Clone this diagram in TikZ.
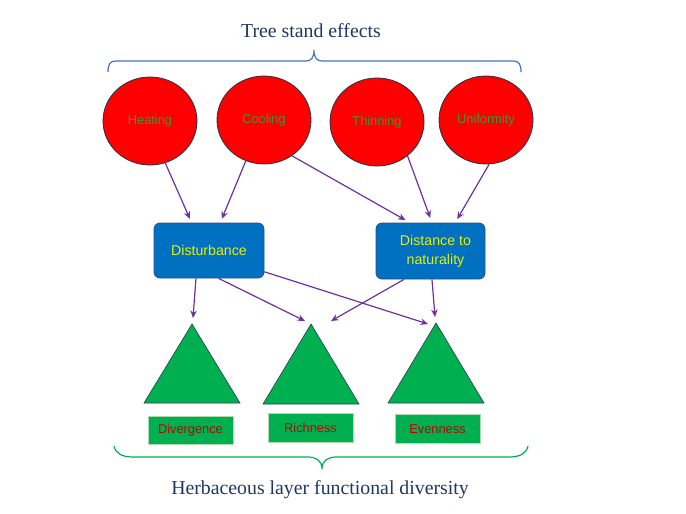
\documentclass[tikz,border=0pt]{standalone}
\usepackage{fontspec}
\setmainfont{Liberation Serif}
\setsansfont{Liberation Sans}
\usetikzlibrary{shapes.geometric,arrows.meta}
\definecolor{circred}{RGB}{255,0,0}
\definecolor{circborder}{RGB}{40,50,70}
\definecolor{circtext}{RGB}{60,150,60}
\definecolor{boxblue}{RGB}{0,112,192}
\definecolor{boxborder}{RGB}{40,80,130}
\definecolor{boxtext}{RGB}{232,240,0}
\definecolor{trigreen}{RGB}{0,176,80}
\definecolor{triborder}{RGB}{40,60,80}
\definecolor{lblborder}{RGB}{175,220,175}
\definecolor{lbltext}{RGB}{192,0,0}
\definecolor{arrowpurple}{RGB}{112,48,160}
\definecolor{titleblue}{RGB}{31,56,100}
\definecolor{bracetop}{RGB}{68,114,196}
\definecolor{bracebot}{RGB}{0,176,80}
\begin{document}
\begin{tikzpicture}[x=1pt,y=-1pt,
  effect/.style={ellipse, draw=circborder, line width=0.8pt, fill=circred,
    minimum width=94pt, minimum height=88pt, inner sep=0pt, text=circtext,
    font=\sffamily\fontsize{12.8}{14}\selectfont},
  mediator/.style={rectangle, rounded corners=6pt, draw=boxborder, line width=0.8pt,
    fill=boxblue, text=boxtext, font=\sffamily\fontsize{14.2}{19}\selectfont,
    align=center, inner sep=0pt},
  trishape/.style={fill=trigreen, draw=triborder, line width=0.6pt},
  metriclabel/.style={rectangle, draw=lblborder, line width=0.6pt, fill=trigreen,
    text=lbltext, font=\sffamily\fontsize{12.8}{14}\selectfont,
    minimum width=85pt, minimum height=28.5pt, inner sep=0pt},
  arrowline/.style={draw=arrowpurple, line width=1.2pt,
    -{Stealth[length=7.5pt,width=6.5pt]}},
  titletext/.style={text=titleblue, font=\fontsize{19.8}{22}\selectfont, inner sep=0pt},
  bracepath/.style={line width=1.2pt}
]
\useasboundingbox (0,0) rectangle (686,514);
\fill[white] (0,0) rectangle (686,514);

% titles
\node[titletext, anchor=base] (toptitle) at (311,37) {Tree stand effects};
\node[titletext, anchor=base] (bottitle) at (320,494) {Herbaceous layer functional diversity};

% braces
\draw[bracepath, bracetop] (108,72) .. controls (108,64) and (110,61) .. (116,61) -- (306,61)
  .. controls (311,61) and (314,58) .. (314,50)
  .. controls (314,58) and (317,61) .. (322,61) -- (513,61)
  .. controls (519,61) and (521,64) .. (521,72);
\draw[bracepath, bracebot] (114,446) .. controls (116,454) and (122,457) .. (134,457) -- (308,457)
  .. controls (316,457) and (322,461) .. (322,468)
  .. controls (322,461) and (328,457) .. (336,457) -- (508,457)
  .. controls (520,457) and (526,454) .. (528,446);

% effects
\node[effect] (heat) at (150,121) {Heating};
\node[effect] (cool) at (264,120) {Cooling};
\node[effect] (thin) at (377,122) {Thinning};
\node[effect] (unif) at (486,120) {Uniformity};

% mediators
\node[mediator, minimum width=110pt, minimum height=55pt] (dist) at (209,250.5) {Disturbance};
\node[mediator, minimum width=109pt, minimum height=56pt] (nat) at (430.5,251) {\hspace*{10pt}Distance to\\\hspace*{10pt}naturality};

% triangles
\filldraw[trishape] (144,403) -- (192,324) -- (240,403) -- cycle;
\filldraw[trishape] (263,404) -- (311,324) -- (359,404) -- cycle;
\filldraw[trishape] (388,403) -- (436,323) -- (484,403) -- cycle;
\coordinate (divIn) at (193,318);
\coordinate (richInL) at (305,321);
\coordinate (richInR) at (331,321);
\coordinate (evenInL) at (428,324);
\coordinate (evenInR) at (435,317);

% metric labels
\node[metriclabel] (divL) at (190.5,430.5) {Divergence};
\node[metriclabel] (richL) at (310.5,428) {Richness};
\node[metriclabel] (evenL) at (437.5,429) {Evenness};

% arrows upper
\draw[arrowline, shorten >=4pt] (heat.-70) -- (dist.122);
\draw[arrowline, shorten >=4pt] (cool.-114) -- (dist.68);
\draw[arrowline, shorten >=5pt] (cool.-52) -- (nat.126);
\draw[arrowline, shorten >=5pt] (thin.-48) -- (nat.87);
\draw[arrowline, shorten >=4pt] (unif.-86) -- (nat.49);

% arrows lower
\draw[arrowline] (dist.-115) -- (divIn);
\draw[arrowline] (dist.-71) -- (richInL);
\draw[arrowline] (dist.-21) -- (evenInL);
\draw[arrowline] (nat.-133) -- (richInR);
\draw[arrowline] (nat.-87) -- (evenInR);
\end{tikzpicture}
\end{document}
